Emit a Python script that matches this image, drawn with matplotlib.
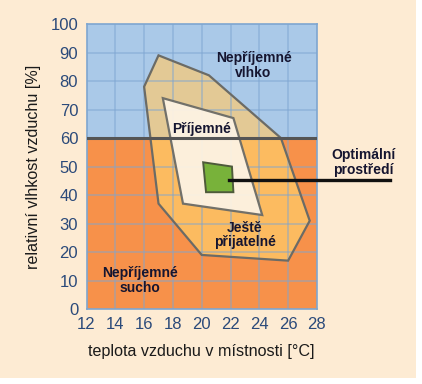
import matplotlib.pyplot as plt
from matplotlib.patches import Polygon, Rectangle

# Zones of thermal comfort (temperature °C, relative humidity %)
outer_t = [17.0, 20.5, 25.5, 27.5, 26.0, 20.0, 17.0, 16.0]
outer_h = [89, 82, 60, 31, 17, 19, 37, 78]
inner_t = [17.3, 22.2, 24.2, 18.7]
inner_h = [74, 67, 33, 37]
optimum_t = [20.1, 22.1, 22.2, 20.3]
optimum_h = [51.5, 50, 41, 41]

humidity_limit = 60
x_ticks = [12, 14, 16, 18, 20, 22, 24, 26, 28]
y_ticks = [0, 10, 20, 30, 40, 50, 60, 70, 80, 90, 100]

bg = "#fdebd3"
tick_col = "#2b4a7a"
txt_col = "#151530"
narrow = ["Liberation Sans Narrow", "Liberation Sans", "DejaVu Sans"]
plt.rcParams["font.family"] = ["Liberation Sans", "DejaVu Sans"]

fig = plt.figure(figsize=(4.22, 3.84), dpi=100, facecolor="white")
fig.patches.append(Rectangle((0, 0.016), 0.986, 0.984, transform=fig.transFigure,
                             facecolor=bg, edgecolor="none", zorder=-10))
ax = fig.add_axes([0.205, 0.195, 0.546, 0.7425])
ax.set_xlim(12, 28)
ax.set_ylim(0, 100)

# humid / dry background
ax.axhspan(humidity_limit, 100, color="#aac9e8", zorder=0)
ax.axhspan(0, humidity_limit, color="#f7914a", zorder=0)

wet = Rectangle((12, humidity_limit), 16, 100 - humidity_limit, transform=ax.transData)
dry = Rectangle((12, 0), 16, humidity_limit, transform=ax.transData)

outer = list(zip(outer_t, outer_h))
for clip, col in [(wet, "#e9c98e"), (dry, "#fdbf63")]:
    p = Polygon(outer, closed=True, facecolor=col, edgecolor="none", zorder=1, alpha=0.92)
    ax.add_patch(p)
    p.set_clip_path(clip)
ax.add_patch(Polygon(outer, closed=True, fill=False, edgecolor="#6b6b66", lw=1.6, zorder=3))

ax.add_patch(Polygon(list(zip(inner_t, inner_h)), closed=True, facecolor="#fdf3e3",
                     edgecolor="#6b6b66", lw=1.6, zorder=3, alpha=0.95))
ax.add_patch(Polygon(list(zip(optimum_t, optimum_h)), closed=True, facecolor="#78b23a",
                     edgecolor="#4e5a3a", lw=1.4, zorder=4))

# grid
for x in x_ticks[1:-1]:
    ax.axvline(x, color="#7ea6d0", lw=1.2, alpha=0.55, zorder=2)
for y in y_ticks[1:-1]:
    if y != humidity_limit:
        ax.axhline(y, color="#7ea6d0", lw=1.2, alpha=0.55, zorder=2)
ax.axhline(humidity_limit, color="#555555", lw=2.2, zorder=5)

# annotation line
ax.plot([21.9, 33.1], [45.3, 45.3], color="#111111", lw=2.4, zorder=6, clip_on=False)

kw = dict(ha="center", va="center", fontweight="bold", fontsize=10, color=txt_col,
          family=narrow, linespacing=1.05, zorder=7)
ax.text(23.6, 85.5, "Nepříjemné\nvlhko", **kw)
ax.text(20.0, 63.3, "Příjemné", **kw)
ax.text(23.0, 26.0, "Ještě\npřijatelné", **kw)
ax.text(15.7, 10.0, "Nepříjemné\nsucho", **kw)
ax.text(31.2, 51.5, "Optimální\nprostředí", clip_on=False, **kw)

ax.set_xticks(x_ticks)
ax.set_yticks(y_ticks)
ax.tick_params(length=0, labelsize=12, labelcolor=tick_col, pad=6)
for s in ax.spines.values():
    s.set_color("#7ea6d0")
    s.set_linewidth(1.2)

ax.set_xlabel("teplota vzduchu v místnosti [°C]", fontsize=11.6, color="#1a1a1a", labelpad=8)
ax.set_ylabel("relativní vlhkost vzduchu [%]", fontsize=11.6, color="#1a1a1a", labelpad=7)

fig.savefig("out.png", dpi=100, facecolor=fig.get_facecolor())
